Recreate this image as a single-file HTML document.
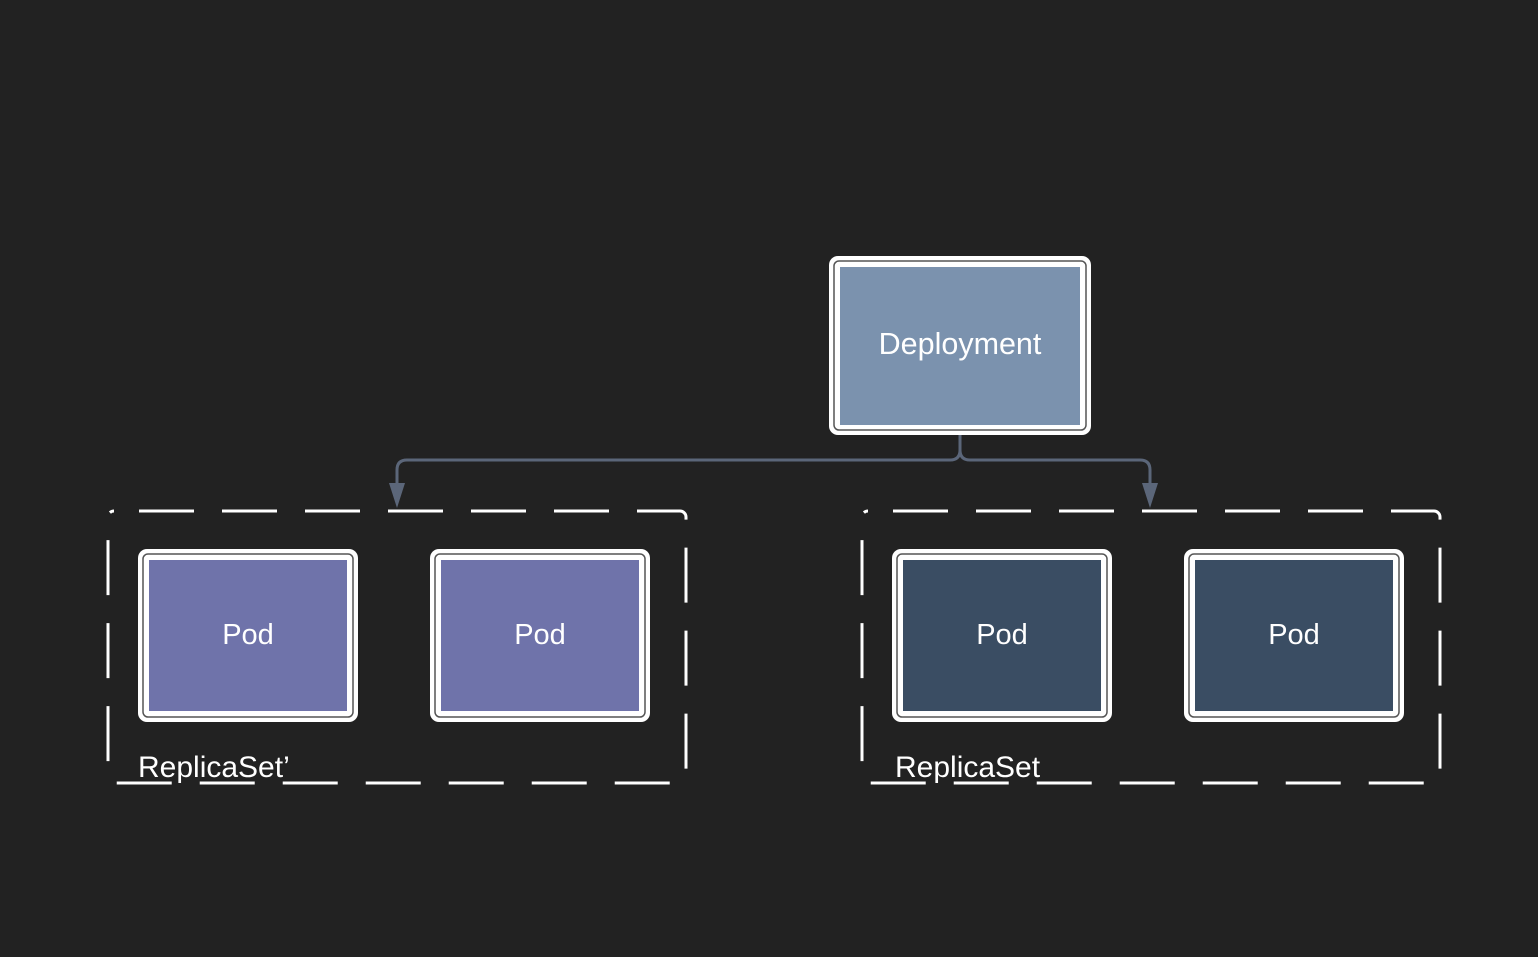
<!DOCTYPE html>
<html><head><style>
body{margin:0;background:#222222;width:1538px;height:957px;overflow:hidden;font-family:"Liberation Sans",sans-serif}
</style></head><body>
<svg width="1538" height="957" xmlns="http://www.w3.org/2000/svg" style="position:absolute;left:0;top:0">
<g font-family="Liberation Sans, sans-serif" fill="#fff">
<rect x="108" y="511" width="578" height="272" rx="6" fill="none" stroke="#fff" stroke-width="3" stroke-dasharray="55 28" stroke-dashoffset="-25"/>
<rect x="862" y="511" width="578" height="272" rx="6" fill="none" stroke="#fff" stroke-width="3" stroke-dasharray="55 28" stroke-dashoffset="-25"/>
<path d="M960 435 V450 Q960 460 950 460 H407 Q397 460 397 470 V490 M960 450 Q960 460 970 460 H1140 Q1150 460 1150 470 V490" fill="none" stroke="#5b6679" stroke-width="3"/>
<polygon points="389,483 405,483 397,508" fill="#5b6679"/>
<polygon points="1142,483 1158,483 1150,508" fill="#5b6679"/>
<g>
<rect x="829" y="256" width="262" height="179" rx="9" fill="#fff"/>
<rect x="834" y="261" width="252" height="169" rx="5" fill="none" stroke="#555" stroke-width="1.5"/>
<rect x="840" y="267" width="240" height="158" fill="#7b92ae"/>
<text x="960" y="354" font-size="30.5" text-anchor="middle">Deployment</text>
</g>
<g>
<rect x="138" y="549" width="220" height="173" rx="9" fill="#fff"/>
<rect x="143" y="554" width="210" height="163" rx="5" fill="none" stroke="#555" stroke-width="1.5"/>
<rect x="149" y="560" width="198" height="151" fill="#6f73aa"/>
<text x="248" y="644" font-size="29" text-anchor="middle">Pod</text>
</g>
<g>
<rect x="430" y="549" width="220" height="173" rx="9" fill="#fff"/>
<rect x="435" y="554" width="210" height="163" rx="5" fill="none" stroke="#555" stroke-width="1.5"/>
<rect x="441" y="560" width="198" height="151" fill="#6f73aa"/>
<text x="540" y="644" font-size="29" text-anchor="middle">Pod</text>
</g>
<g>
<rect x="892" y="549" width="220" height="173" rx="9" fill="#fff"/>
<rect x="897" y="554" width="210" height="163" rx="5" fill="none" stroke="#555" stroke-width="1.5"/>
<rect x="903" y="560" width="198" height="151" fill="#3a4d63"/>
<text x="1002" y="644" font-size="29" text-anchor="middle">Pod</text>
</g>
<g>
<rect x="1184" y="549" width="220" height="173" rx="9" fill="#fff"/>
<rect x="1189" y="554" width="210" height="163" rx="5" fill="none" stroke="#555" stroke-width="1.5"/>
<rect x="1195" y="560" width="198" height="151" fill="#3a4d63"/>
<text x="1294" y="644" font-size="29" text-anchor="middle">Pod</text>
</g>
<text x="138" y="777" font-size="30">ReplicaSet’</text>
<text x="895" y="777" font-size="30">ReplicaSet</text>
</g>
</svg>
</body></html>
